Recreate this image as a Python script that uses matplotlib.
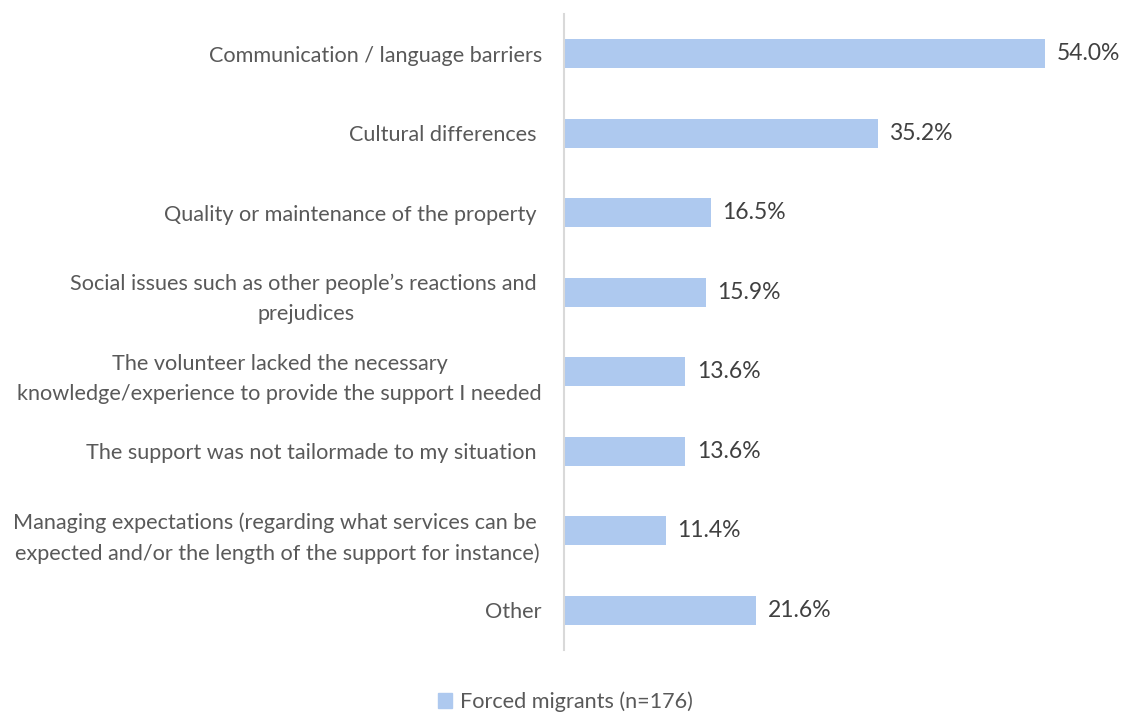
import matplotlib.pyplot as plt
from matplotlib.patches import Patch

categories = [
    'Communication / language barriers',
    'Cultural differences ',
    'Quality or maintenance of the property ',
    'Social issues such as other people\u2019s reactions and \nprejudices',
    'The volunteer lacked the necessary\nknowledge/experience to provide the support I needed',
    'The support was not tailormade to my situation ',
    'Managing expectations (regarding what services can be \nexpected and/or the length of the support for instance)',
    'Other',
]
values = [54.0, 35.2, 16.5, 15.9, 13.6, 13.6, 11.4, 21.6]
series_name = 'Forced migrants (n=176)'

bar_color = '#AEC9EF'
plt.rcParams['font.family'] = ['Lato', 'DejaVu Sans']

fig = plt.figure(figsize=(11.24, 7.13), dpi=100)
ax = fig.add_axes([564 / 1124, 1 - 650 / 713, 534.4 / 1124, 636 / 713])

ypos = list(range(len(values)))
ax.barh(ypos, values, height=0.36, color=bar_color)
ax.set_xlim(0, 60)
ax.set_ylim(7.5, -0.5)

for y, v in zip(ypos, values):
    ax.text(v + 1.3, y, f'{v:.1f}%', va='center', ha='left',
            fontsize=16.5, color='#404040')

ax.set_yticks(ypos)
ax.set_yticklabels(categories, fontsize=15.6, color='#595959',
                   multialignment='center', linespacing=1.62)
ax.tick_params(axis='y', length=0, pad=16)
ax.set_xticks([])
for s in ['top', 'right', 'bottom']:
    ax.spines[s].set_visible(False)
ax.spines['left'].set_color('#D9D9D9')
ax.spines['left'].set_linewidth(1.5)

fig.legend(handles=[Patch(color=bar_color, label=series_name)],
           loc='center', bbox_to_anchor=(0.503, 0.0155), frameon=False,
           fontsize=15.6, labelcolor='#595959', handlelength=0.65,
           handleheight=0.65, handletextpad=0.4)

fig.savefig('out.png', dpi=100)
